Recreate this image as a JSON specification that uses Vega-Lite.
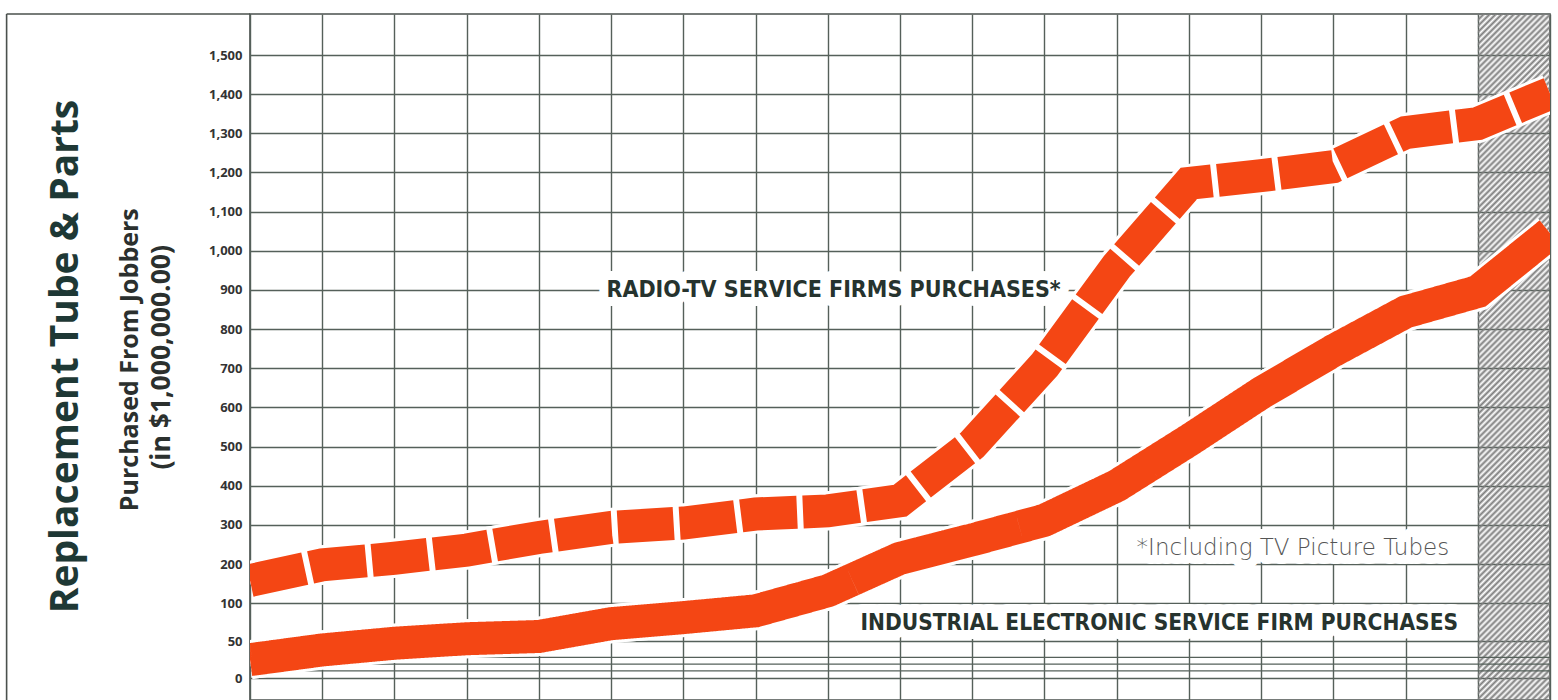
{
  "$schema": "https://vega.github.io/schema/vega-lite/v6.json",
  "autosize": {"type": "none"},
  "padding": {"left": 250, "top": 14, "right": 8, "bottom": 0},
  "width": 1300,
  "height": 686,
  "background": "white",
  "config": {"view": {"stroke": "#4a504d", "strokeWidth": 1.6}},
  "datasets": {
    "series": [
      {"period": 0, "series": "Radio-TV service firms", "value": 158},
      {"period": 1, "series": "Radio-TV service firms", "value": 198},
      {"period": 2, "series": "Radio-TV service firms", "value": 215},
      {"period": 3, "series": "Radio-TV service firms", "value": 236},
      {"period": 4, "series": "Radio-TV service firms", "value": 268},
      {"period": 5, "series": "Radio-TV service firms", "value": 294},
      {"period": 6, "series": "Radio-TV service firms", "value": 305},
      {"period": 7, "series": "Radio-TV service firms", "value": 328},
      {"period": 8, "series": "Radio-TV service firms", "value": 336},
      {"period": 9, "series": "Radio-TV service firms", "value": 362},
      {"period": 10, "series": "Radio-TV service firms", "value": 505},
      {"period": 11, "series": "Radio-TV service firms", "value": 708},
      {"period": 12, "series": "Radio-TV service firms", "value": 960},
      {"period": 13, "series": "Radio-TV service firms", "value": 1172},
      {"period": 14, "series": "Radio-TV service firms", "value": 1192},
      {"period": 15, "series": "Radio-TV service firms", "value": 1215},
      {"period": 16, "series": "Radio-TV service firms", "value": 1302},
      {"period": 17, "series": "Radio-TV service firms", "value": 1325},
      {"period": 18, "series": "Radio-TV service firms", "value": 1402},
      {"period": 0, "series": "Industrial electronic service firms", "value": 25},
      {"period": 1, "series": "Industrial electronic service firms", "value": 38},
      {"period": 2, "series": "Industrial electronic service firms", "value": 47},
      {"period": 3, "series": "Industrial electronic service firms", "value": 53},
      {"period": 4, "series": "Industrial electronic service firms", "value": 56},
      {"period": 5, "series": "Industrial electronic service firms", "value": 73},
      {"period": 6, "series": "Industrial electronic service firms", "value": 81},
      {"period": 7, "series": "Industrial electronic service firms", "value": 90},
      {"period": 8, "series": "Industrial electronic service firms", "value": 132},
      {"period": 9, "series": "Industrial electronic service firms", "value": 215},
      {"period": 10, "series": "Industrial electronic service firms", "value": 262},
      {"period": 11, "series": "Industrial electronic service firms", "value": 312},
      {"period": 12, "series": "Industrial electronic service firms", "value": 400},
      {"period": 13, "series": "Industrial electronic service firms", "value": 516},
      {"period": 14, "series": "Industrial electronic service firms", "value": 637},
      {"period": 15, "series": "Industrial electronic service firms", "value": 745},
      {"period": 16, "series": "Industrial electronic service firms", "value": 844},
      {"period": 17, "series": "Industrial electronic service firms", "value": 896},
      {"period": 18, "series": "Industrial electronic service firms", "value": 1045}
    ]
  },
  "layer": [
    {
      "data": {"name": "series"},
      "mark": {"type": "line", "color": "white", "strokeWidth": 39, "clip": true},
      "encoding": {
        "x": {
          "field": "period",
          "type": "quantitative",
          "scale": {"domain": [0, 18], "nice": false, "zero": false},
          "axis": {
            "values": [0, 1, 2, 3, 4, 5, 6, 7, 8, 9, 10, 11, 12, 13, 14, 15, 16, 17, 18],
            "labels": false, "ticks": false, "domain": false,
            "grid": true, "gridColor": "#55605a", "gridWidth": 1.4, "title": null
          }
        },
        "y": {
          "field": "value",
          "type": "quantitative",
          "scale": {"domain": [-29, 0, 50, 100, 1500, 1605], "range": [686, 664.3, 627, 589.3, 41, 0], "nice": false, "zero": false},
          "axis": {
            "values": [0, 50, 100, 200, 300, 400, 500, 600, 700, 800, 900, 1000, 1100, 1200, 1300, 1400, 1500],
            "labelExpr": "format(datum.value, ',')",
            "labelFont": "Open Sans", "labelFontSize": 13, "labelFontWeight": "bold", "labelColor": "#333333",
            "labelPadding": 8, "labelOverlap": false, "labelFlush": false, "ticks": false, "domain": false,
            "grid": true, "gridColor": "#55605a", "gridWidth": 1.4, "title": null
          }
        },
        "detail": {"field": "series", "type": "nominal"}
      }
    },
    {
      "data": {"values": [{}]},
      "mark": {
        "type": "rect",
        "fill": {
          "gradient": "linear", "x1": 0, "y1": 0, "x2": 0.115, "y2": 1.093,
          "stops": [
            {"offset":0,"color":"#7d7d7d"},{"offset":0.004,"color":"rgba(125,125,125,0)"},{"offset":0.008,"color":"#7d7d7d"},{"offset":0.012,"color":"rgba(125,125,125,0)"},{"offset":0.016,"color":"#7d7d7d"},{"offset":0.02,"color":"rgba(125,125,125,0)"},{"offset":0.024,"color":"#7d7d7d"},{"offset":0.028,"color":"rgba(125,125,125,0)"},{"offset":0.032,"color":"#7d7d7d"},{"offset":0.036,"color":"rgba(125,125,125,0)"},{"offset":0.04,"color":"#7d7d7d"},{"offset":0.044,"color":"rgba(125,125,125,0)"},{"offset":0.048,"color":"#7d7d7d"},{"offset":0.052,"color":"rgba(125,125,125,0)"},{"offset":0.056,"color":"#7d7d7d"},{"offset":0.06,"color":"rgba(125,125,125,0)"},{"offset":0.064,"color":"#7d7d7d"},{"offset":0.068,"color":"rgba(125,125,125,0)"},{"offset":0.072,"color":"#7d7d7d"},{"offset":0.076,"color":"rgba(125,125,125,0)"},{"offset":0.08,"color":"#7d7d7d"},{"offset":0.084,"color":"rgba(125,125,125,0)"},{"offset":0.088,"color":"#7d7d7d"},{"offset":0.092,"color":"rgba(125,125,125,0)"},{"offset":0.096,"color":"#7d7d7d"},
            {"offset":0.1,"color":"rgba(125,125,125,0)"},{"offset":0.104,"color":"#7d7d7d"},{"offset":0.108,"color":"rgba(125,125,125,0)"},{"offset":0.112,"color":"#7d7d7d"},{"offset":0.116,"color":"rgba(125,125,125,0)"},{"offset":0.12,"color":"#7d7d7d"},{"offset":0.124,"color":"rgba(125,125,125,0)"},{"offset":0.128,"color":"#7d7d7d"},{"offset":0.132,"color":"rgba(125,125,125,0)"},{"offset":0.136,"color":"#7d7d7d"},{"offset":0.14,"color":"rgba(125,125,125,0)"},{"offset":0.144,"color":"#7d7d7d"},{"offset":0.148,"color":"rgba(125,125,125,0)"},{"offset":0.152,"color":"#7d7d7d"},{"offset":0.156,"color":"rgba(125,125,125,0)"},{"offset":0.16,"color":"#7d7d7d"},{"offset":0.164,"color":"rgba(125,125,125,0)"},{"offset":0.168,"color":"#7d7d7d"},{"offset":0.172,"color":"rgba(125,125,125,0)"},{"offset":0.176,"color":"#7d7d7d"},{"offset":0.18,"color":"rgba(125,125,125,0)"},{"offset":0.184,"color":"#7d7d7d"},{"offset":0.188,"color":"rgba(125,125,125,0)"},{"offset":0.192,"color":"#7d7d7d"},{"offset":0.196,"color":"rgba(125,125,125,0)"},
            {"offset":0.2,"color":"#7d7d7d"},{"offset":0.204,"color":"rgba(125,125,125,0)"},{"offset":0.208,"color":"#7d7d7d"},{"offset":0.212,"color":"rgba(125,125,125,0)"},{"offset":0.216,"color":"#7d7d7d"},{"offset":0.22,"color":"rgba(125,125,125,0)"},{"offset":0.224,"color":"#7d7d7d"},{"offset":0.228,"color":"rgba(125,125,125,0)"},{"offset":0.232,"color":"#7d7d7d"},{"offset":0.236,"color":"rgba(125,125,125,0)"},{"offset":0.24,"color":"#7d7d7d"},{"offset":0.244,"color":"rgba(125,125,125,0)"},{"offset":0.248,"color":"#7d7d7d"},{"offset":0.252,"color":"rgba(125,125,125,0)"},{"offset":0.256,"color":"#7d7d7d"},{"offset":0.26,"color":"rgba(125,125,125,0)"},{"offset":0.264,"color":"#7d7d7d"},{"offset":0.268,"color":"rgba(125,125,125,0)"},{"offset":0.272,"color":"#7d7d7d"},{"offset":0.276,"color":"rgba(125,125,125,0)"},{"offset":0.28,"color":"#7d7d7d"},{"offset":0.284,"color":"rgba(125,125,125,0)"},{"offset":0.288,"color":"#7d7d7d"},{"offset":0.292,"color":"rgba(125,125,125,0)"},{"offset":0.296,"color":"#7d7d7d"},
            {"offset":0.3,"color":"rgba(125,125,125,0)"},{"offset":0.304,"color":"#7d7d7d"},{"offset":0.308,"color":"rgba(125,125,125,0)"},{"offset":0.312,"color":"#7d7d7d"},{"offset":0.316,"color":"rgba(125,125,125,0)"},{"offset":0.32,"color":"#7d7d7d"},{"offset":0.324,"color":"rgba(125,125,125,0)"},{"offset":0.328,"color":"#7d7d7d"},{"offset":0.332,"color":"rgba(125,125,125,0)"},{"offset":0.336,"color":"#7d7d7d"},{"offset":0.34,"color":"rgba(125,125,125,0)"},{"offset":0.344,"color":"#7d7d7d"},{"offset":0.348,"color":"rgba(125,125,125,0)"},{"offset":0.352,"color":"#7d7d7d"},{"offset":0.356,"color":"rgba(125,125,125,0)"},{"offset":0.36,"color":"#7d7d7d"},{"offset":0.364,"color":"rgba(125,125,125,0)"},{"offset":0.368,"color":"#7d7d7d"},{"offset":0.372,"color":"rgba(125,125,125,0)"},{"offset":0.376,"color":"#7d7d7d"},{"offset":0.38,"color":"rgba(125,125,125,0)"},{"offset":0.384,"color":"#7d7d7d"},{"offset":0.388,"color":"rgba(125,125,125,0)"},{"offset":0.392,"color":"#7d7d7d"},{"offset":0.396,"color":"rgba(125,125,125,0)"},
            {"offset":0.4,"color":"#7d7d7d"},{"offset":0.404,"color":"rgba(125,125,125,0)"},{"offset":0.408,"color":"#7d7d7d"},{"offset":0.412,"color":"rgba(125,125,125,0)"},{"offset":0.416,"color":"#7d7d7d"},{"offset":0.42,"color":"rgba(125,125,125,0)"},{"offset":0.424,"color":"#7d7d7d"},{"offset":0.428,"color":"rgba(125,125,125,0)"},{"offset":0.432,"color":"#7d7d7d"},{"offset":0.436,"color":"rgba(125,125,125,0)"},{"offset":0.44,"color":"#7d7d7d"},{"offset":0.444,"color":"rgba(125,125,125,0)"},{"offset":0.448,"color":"#7d7d7d"},{"offset":0.452,"color":"rgba(125,125,125,0)"},{"offset":0.456,"color":"#7d7d7d"},{"offset":0.46,"color":"rgba(125,125,125,0)"},{"offset":0.464,"color":"#7d7d7d"},{"offset":0.468,"color":"rgba(125,125,125,0)"},{"offset":0.472,"color":"#7d7d7d"},{"offset":0.476,"color":"rgba(125,125,125,0)"},{"offset":0.48,"color":"#7d7d7d"},{"offset":0.484,"color":"rgba(125,125,125,0)"},{"offset":0.488,"color":"#7d7d7d"},{"offset":0.492,"color":"rgba(125,125,125,0)"},{"offset":0.496,"color":"#7d7d7d"},
            {"offset":0.5,"color":"rgba(125,125,125,0)"},{"offset":0.504,"color":"#7d7d7d"},{"offset":0.508,"color":"rgba(125,125,125,0)"},{"offset":0.512,"color":"#7d7d7d"},{"offset":0.516,"color":"rgba(125,125,125,0)"},{"offset":0.52,"color":"#7d7d7d"},{"offset":0.524,"color":"rgba(125,125,125,0)"},{"offset":0.528,"color":"#7d7d7d"},{"offset":0.532,"color":"rgba(125,125,125,0)"},{"offset":0.536,"color":"#7d7d7d"},{"offset":0.54,"color":"rgba(125,125,125,0)"},{"offset":0.544,"color":"#7d7d7d"},{"offset":0.548,"color":"rgba(125,125,125,0)"},{"offset":0.552,"color":"#7d7d7d"},{"offset":0.556,"color":"rgba(125,125,125,0)"},{"offset":0.56,"color":"#7d7d7d"},{"offset":0.564,"color":"rgba(125,125,125,0)"},{"offset":0.568,"color":"#7d7d7d"},{"offset":0.572,"color":"rgba(125,125,125,0)"},{"offset":0.576,"color":"#7d7d7d"},{"offset":0.58,"color":"rgba(125,125,125,0)"},{"offset":0.584,"color":"#7d7d7d"},{"offset":0.588,"color":"rgba(125,125,125,0)"},{"offset":0.592,"color":"#7d7d7d"},{"offset":0.596,"color":"rgba(125,125,125,0)"},
            {"offset":0.6,"color":"#7d7d7d"},{"offset":0.604,"color":"rgba(125,125,125,0)"},{"offset":0.608,"color":"#7d7d7d"},{"offset":0.612,"color":"rgba(125,125,125,0)"},{"offset":0.616,"color":"#7d7d7d"},{"offset":0.62,"color":"rgba(125,125,125,0)"},{"offset":0.624,"color":"#7d7d7d"},{"offset":0.628,"color":"rgba(125,125,125,0)"},{"offset":0.632,"color":"#7d7d7d"},{"offset":0.636,"color":"rgba(125,125,125,0)"},{"offset":0.64,"color":"#7d7d7d"},{"offset":0.644,"color":"rgba(125,125,125,0)"},{"offset":0.648,"color":"#7d7d7d"},{"offset":0.652,"color":"rgba(125,125,125,0)"},{"offset":0.656,"color":"#7d7d7d"},{"offset":0.66,"color":"rgba(125,125,125,0)"},{"offset":0.664,"color":"#7d7d7d"},{"offset":0.668,"color":"rgba(125,125,125,0)"},{"offset":0.672,"color":"#7d7d7d"},{"offset":0.676,"color":"rgba(125,125,125,0)"},{"offset":0.68,"color":"#7d7d7d"},{"offset":0.684,"color":"rgba(125,125,125,0)"},{"offset":0.688,"color":"#7d7d7d"},{"offset":0.692,"color":"rgba(125,125,125,0)"},{"offset":0.696,"color":"#7d7d7d"},
            {"offset":0.7,"color":"rgba(125,125,125,0)"},{"offset":0.704,"color":"#7d7d7d"},{"offset":0.708,"color":"rgba(125,125,125,0)"},{"offset":0.712,"color":"#7d7d7d"},{"offset":0.716,"color":"rgba(125,125,125,0)"},{"offset":0.72,"color":"#7d7d7d"},{"offset":0.724,"color":"rgba(125,125,125,0)"},{"offset":0.728,"color":"#7d7d7d"},{"offset":0.732,"color":"rgba(125,125,125,0)"},{"offset":0.736,"color":"#7d7d7d"},{"offset":0.74,"color":"rgba(125,125,125,0)"},{"offset":0.744,"color":"#7d7d7d"},{"offset":0.748,"color":"rgba(125,125,125,0)"},{"offset":0.752,"color":"#7d7d7d"},{"offset":0.756,"color":"rgba(125,125,125,0)"},{"offset":0.76,"color":"#7d7d7d"},{"offset":0.764,"color":"rgba(125,125,125,0)"},{"offset":0.768,"color":"#7d7d7d"},{"offset":0.772,"color":"rgba(125,125,125,0)"},{"offset":0.776,"color":"#7d7d7d"},{"offset":0.78,"color":"rgba(125,125,125,0)"},{"offset":0.784,"color":"#7d7d7d"},{"offset":0.788,"color":"rgba(125,125,125,0)"},{"offset":0.792,"color":"#7d7d7d"},{"offset":0.796,"color":"rgba(125,125,125,0)"},
            {"offset":0.8,"color":"#7d7d7d"},{"offset":0.804,"color":"rgba(125,125,125,0)"},{"offset":0.808,"color":"#7d7d7d"},{"offset":0.812,"color":"rgba(125,125,125,0)"},{"offset":0.816,"color":"#7d7d7d"},{"offset":0.82,"color":"rgba(125,125,125,0)"},{"offset":0.824,"color":"#7d7d7d"},{"offset":0.828,"color":"rgba(125,125,125,0)"},{"offset":0.832,"color":"#7d7d7d"},{"offset":0.836,"color":"rgba(125,125,125,0)"},{"offset":0.84,"color":"#7d7d7d"},{"offset":0.844,"color":"rgba(125,125,125,0)"},{"offset":0.848,"color":"#7d7d7d"},{"offset":0.852,"color":"rgba(125,125,125,0)"},{"offset":0.856,"color":"#7d7d7d"},{"offset":0.86,"color":"rgba(125,125,125,0)"},{"offset":0.864,"color":"#7d7d7d"},{"offset":0.868,"color":"rgba(125,125,125,0)"},{"offset":0.872,"color":"#7d7d7d"},{"offset":0.876,"color":"rgba(125,125,125,0)"},{"offset":0.88,"color":"#7d7d7d"},{"offset":0.884,"color":"rgba(125,125,125,0)"},{"offset":0.888,"color":"#7d7d7d"},{"offset":0.892,"color":"rgba(125,125,125,0)"},{"offset":0.896,"color":"#7d7d7d"},
            {"offset":0.9,"color":"rgba(125,125,125,0)"},{"offset":0.904,"color":"#7d7d7d"},{"offset":0.908,"color":"rgba(125,125,125,0)"},{"offset":0.912,"color":"#7d7d7d"},{"offset":0.916,"color":"rgba(125,125,125,0)"},{"offset":0.92,"color":"#7d7d7d"},{"offset":0.924,"color":"rgba(125,125,125,0)"},{"offset":0.928,"color":"#7d7d7d"},{"offset":0.932,"color":"rgba(125,125,125,0)"},{"offset":0.936,"color":"#7d7d7d"},{"offset":0.94,"color":"rgba(125,125,125,0)"},{"offset":0.944,"color":"#7d7d7d"},{"offset":0.948,"color":"rgba(125,125,125,0)"},{"offset":0.952,"color":"#7d7d7d"},{"offset":0.956,"color":"rgba(125,125,125,0)"},{"offset":0.96,"color":"#7d7d7d"},{"offset":0.964,"color":"rgba(125,125,125,0)"},{"offset":0.968,"color":"#7d7d7d"},{"offset":0.972,"color":"rgba(125,125,125,0)"},{"offset":0.976,"color":"#7d7d7d"},{"offset":0.98,"color":"rgba(125,125,125,0)"},{"offset":0.984,"color":"#7d7d7d"},{"offset":0.988,"color":"rgba(125,125,125,0)"},{"offset":0.992,"color":"#7d7d7d"},{"offset":0.996,"color":"rgba(125,125,125,0)"},
            {"offset":1,"color":"#7d7d7d"}
          ]
        }
      },
      "encoding": {
        "x": {"datum": 17, "type": "quantitative"},
        "x2": {"datum": 18},
        "y": {"datum": -29, "type": "quantitative"},
        "y2": {"datum": 1605}
      }
    },
    {
      "data": {"values": [{}]},
      "mark": {"type": "rule", "color": "#55605a", "strokeWidth": 1.4},
      "encoding": {"x": {"datum": 0, "type": "quantitative"}, "x2": {"datum": 18}, "y": {"datum": 10, "type": "quantitative"}}
    },
    {
      "data": {"values": [{}]},
      "mark": {"type": "rule", "color": "#55605a", "strokeWidth": 1.4},
      "encoding": {"x": {"datum": 0, "type": "quantitative"}, "x2": {"datum": 18}, "y": {"datum": 19, "type": "quantitative"}}
    },
    {
      "data": {"values": [{}]},
      "mark": {"type": "rule", "color": "#55605a", "strokeWidth": 1.4},
      "encoding": {"x": {"datum": 0, "type": "quantitative"}, "x2": {"datum": 18}, "y": {"datum": 28, "type": "quantitative"}}
    },
    {
      "data": {"values": [{}]},
      "mark": {"type": "rule", "color": "#4a504d", "strokeWidth": 1.6},
      "encoding": {
        "x": {"datum": -3.37, "type": "quantitative"},
        "y": {"datum": -29, "type": "quantitative"},
        "y2": {"datum": 1605}
      }
    },
    {
      "data": {"values": [{}]},
      "mark": {"type": "rule", "color": "#4a504d", "strokeWidth": 1.6},
      "encoding": {
        "x": {"datum": -3.37, "type": "quantitative"},
        "x2": {"datum": 0},
        "y": {"datum": 1605, "type": "quantitative"}
      }
    },
    {
      "data": {"values": [{}]},
      "mark": {"type": "text", "text": "Replacement Tube & Parts", "angle": 270, "font": "Open Sans", "fontSize": 39, "fontWeight": "bold", "align": "center", "baseline": "middle", "color": "#1e3835"},
      "encoding": {"x": {"datum": -2.548, "type": "quantitative"}, "y": {"datum": 730, "type": "quantitative"}}
    },
    {
      "data": {"values": [{}]},
      "mark": {"type": "text", "text": "Purchased From Jobbers", "angle": 270, "font": "Open Sans", "fontSize": 25, "fontWeight": "bold", "align": "center", "baseline": "middle", "color": "#2b302e"},
      "encoding": {"x": {"datum": -1.655, "type": "quantitative"}, "y": {"datum": 722, "type": "quantitative"}}
    },
    {
      "data": {"values": [{}]},
      "mark": {"type": "text", "text": "(in $1,000,000.00)", "angle": 270, "font": "Open Sans", "fontSize": 26.5, "fontWeight": "bold", "align": "center", "baseline": "middle", "color": "#2b302e"},
      "encoding": {"x": {"datum": -1.212, "type": "quantitative"}, "y": {"datum": 728, "type": "quantitative"}}
    },
    {
      "data": {"values": [{}]},
      "mark": {"type": "text", "text": "RADIO-TV SERVICE FIRMS PURCHASES*", "font": "Liberation Sans Narrow, DejaVu Sans Condensed, sans-serif", "fontSize": 23, "fontWeight": "bold", "align": "center", "baseline": "middle", "fill": "white", "stroke": "white", "strokeWidth": 18, "strokeJoin": "round"},
      "encoding": {"x": {"datum": 8.08, "type": "quantitative"}, "y": {"datum": 900, "type": "quantitative"}}
    },
    {
      "data": {"values": [{}]},
      "mark": {"type": "text", "text": "RADIO-TV SERVICE FIRMS PURCHASES*", "font": "Liberation Sans Narrow, DejaVu Sans Condensed, sans-serif", "fontSize": 23, "fontWeight": "bold", "align": "center", "baseline": "middle", "color": "#26332e"},
      "encoding": {"x": {"datum": 8.08, "type": "quantitative"}, "y": {"datum": 900, "type": "quantitative"}}
    },
    {
      "data": {"values": [{}]},
      "mark": {"type": "text", "text": "INDUSTRIAL ELECTRONIC SERVICE FIRM PURCHASES", "font": "Liberation Sans Narrow, DejaVu Sans Condensed, sans-serif", "fontSize": 22.5, "fontWeight": "bold", "align": "center", "baseline": "middle", "fill": "white", "stroke": "white", "strokeWidth": 18, "strokeJoin": "round"},
      "encoding": {"x": {"datum": 12.59, "type": "quantitative"}, "y": {"datum": 74, "type": "quantitative"}}
    },
    {
      "data": {"values": [{}]},
      "mark": {"type": "text", "text": "INDUSTRIAL ELECTRONIC SERVICE FIRM PURCHASES", "font": "Liberation Sans Narrow, DejaVu Sans Condensed, sans-serif", "fontSize": 22.5, "fontWeight": "bold", "align": "center", "baseline": "middle", "color": "#26332e"},
      "encoding": {"x": {"datum": 12.59, "type": "quantitative"}, "y": {"datum": 74, "type": "quantitative"}}
    },
    {
      "data": {"values": [{}]},
      "mark": {"type": "text", "text": "*Including TV Picture Tubes", "font": "DejaVu Sans", "fontSize": 23, "fontWeight": 300, "align": "center", "baseline": "middle", "fill": "white", "stroke": "white", "strokeWidth": 18, "strokeJoin": "round"},
      "encoding": {"x": {"datum": 14.44, "type": "quantitative"}, "y": {"datum": 242, "type": "quantitative"}}
    },
    {
      "data": {"values": [{}]},
      "mark": {"type": "text", "text": "*Including TV Picture Tubes", "font": "DejaVu Sans", "fontSize": 23, "fontWeight": 300, "align": "center", "baseline": "middle", "color": "#555555"},
      "encoding": {"x": {"datum": 14.44, "type": "quantitative"}, "y": {"datum": 242, "type": "quantitative"}}
    },
    {
      "data": {"name": "series"},
      "mark": {"type": "line", "color": "white", "strokeWidth": 39, "clip": true},
      "encoding": {
        "x": {"field": "period", "type": "quantitative"},
        "y": {"field": "value", "type": "quantitative"},
        "detail": {"field": "series", "type": "nominal"}
      }
    },
    {
      "data": {"name": "series"},
      "mark": {"type": "line", "color": "#f44614", "strokeWidth": 33, "clip": true},
      "encoding": {
        "x": {"field": "period", "type": "quantitative"},
        "y": {"field": "value", "type": "quantitative"},
        "detail": {"field": "series", "type": "nominal"},
        "strokeDash": {
          "field": "series", "type": "nominal",
          "scale": {"domain": ["Industrial electronic service firms", "Radio-TV service firms"], "range": [[1, 0], [56, 6]]},
          "legend": null
        }
      }
    }
  ]
}
